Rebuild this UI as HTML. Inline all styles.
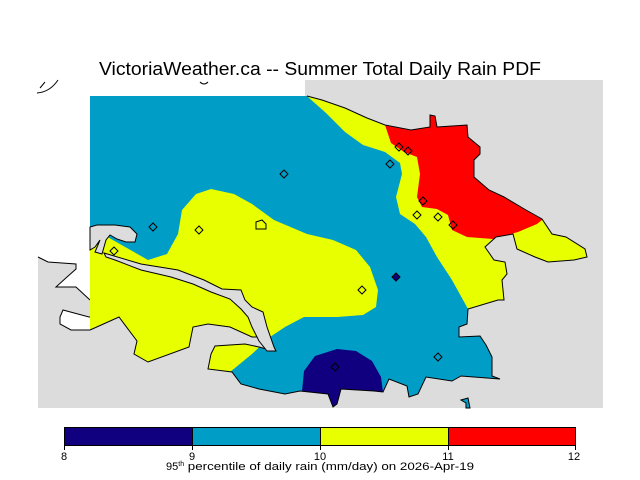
<!DOCTYPE html>
<html><head><meta charset="utf-8"><style>html,body{margin:0;padding:0;background:#fff}svg{display:block}</style></head>
<body>
<svg width="640" height="480" viewBox="0 0 640 480" xmlns="http://www.w3.org/2000/svg" font-family="Liberation Sans, sans-serif">
<text x="99" y="75" textLength="442" lengthAdjust="spacingAndGlyphs" font-size="18" fill="#000">VictoriaWeather.ca -- Summer Total Daily Rain PDF</text>
<rect x="38" y="80" width="565" height="328" fill="#dcdcdc"/>
<rect x="38" y="80" width="267" height="16" fill="#fff"/>
<path d="M38,80 L91,80 L91,300 L90,300 L76,287 L56,287 L67,277 L76,269 L76,264 L48,262 L38,257 Z" fill="#fff"/>
<path d="M38,257 L48,262 L76,264 L76,269 L67,277 L56,287 L76,287 L90,300" fill="none" stroke="#000"/>
<path d="M90,317 L89,317 L63,310 L60,317 L60,324 L71,330 L90,330" fill="#fff" stroke="#000"/>
<path d="M37,93 Q50,92 58,80 M45,82 L40,88" fill="none" stroke="#000"/>
<path d="M200,82 Q204,86 208,82" fill="none" stroke="#000"/>
<defs><clipPath id="land"><path d="M90,96 L307,96 L322,100 L345,108 L367,118 L385,125 L411,130 L430,127 L430,115 L435,116 L437,127 L467,125 L468,137 L480,147 L480,154 L474,160 L474,177 L489,190 L504,197 L526,210 L542,219 L552,234 L566,237 L585,249 L587,257 L574,260 L548,262 L535,257 L517,249 L513,234 L496,237 L485,247 L494,260 L505,262 L507,274 L502,280 L504,300 L498,300 L468,309 L467,324 L459,327 L459,337 L480,336 L486,345 L492,357 L492,376 L500,379 L461,376 L452,381 L426,377 L418,394 L409,397 L407,386 L389,379 L383,392 L374,391 L341,389 L337,404 L333,407 L328,394 L300,391 L285,394 L259,389 L241,384 L232,372 L208,369 L211,354 L215,346 L245,344 L259,347 L274,351 L270,337 L252,337 L230,327 L208,324 L193,327 L189,347 L148,362 L134,354 L137,341 L119,317 L90,330 Z"/></clipPath></defs>
<g clip-path="url(#land)">
<rect x="80" y="90" width="540" height="330" fill="#009ec6"/>
<path d="M90,227 L148,260 L167,254 L178,234 L182,210 L196,194 L211,189 L234,194 L252,204 L274,220 L307,234 L333,240 L356,250 L370,267 L378,290 L376,307 L363,315 L337,317 L304,317 L285,327 L270,337 L252,354 L230,372 L200,420 L80,420 L80,227 Z" fill="#e8ff00"/>
<path d="M300,90 L326,113 L345,132 L363,145 L385,152 L400,163 L402,174 L396,197 L400,214 L415,224 L426,237 L437,257 L452,280 L468,309 L480,320 L620,320 L620,90 Z" fill="#e8ff00"/>
<path d="M383,110 L385,125 L391,143 L404,152 L417,157 L420,174 L417,197 L422,207 L437,209 L448,215 L452,230 L467,237 L493,239 L518,232 L537,224 L548,215 L548,110 Z" fill="#ff0000"/>
<path d="M300,410 L302,391 L304,371 L315,356 L337,349 L356,351 L372,361 L381,377 L383,392 L385,410 Z" fill="#100080"/>
</g>
<path d="M307,96 L322,100 L345,108 L367,118 L385,125 L411,130 L430,127 L430,115 L435,116 L437,127 L467,125 L468,137 L480,147 L480,154 L474,160 L474,177 L489,190 L504,197 L526,210 L542,219 L552,234 L566,237 L585,249 L587,257 L574,260 L548,262 L535,257 L517,249 L513,234 L496,237 L485,247 L494,260 L505,262 L507,274 L502,280 L504,300 L498,300 L468,309 L467,324 L459,327 L459,337 L480,336 L486,345 L492,357 L492,376 L500,379 L461,376 L452,381 L426,377 L418,394 L409,397 L407,386 L389,379 L383,392 L374,391 L341,389 L337,404 L333,407 L328,394 L300,391 L285,394 L259,389 L241,384 L232,372 L208,369 L211,354 L215,346 L245,344 L259,347 L274,351 L270,337 L252,337 L230,327 L208,324 L193,327 L189,347 L148,362 L134,354 L137,341 L119,317 L90,330" fill="none" stroke="#000" stroke-width="1"/>
<path d="M90,227 L97,225 L115,225 L130,227 L137,234 L135,242 L126,242 L117,239 L110,235 L106,240 L104,247 L102,254 L95,252 L100,240 L95,247 L90,250 Z" fill="#dcdcdc" stroke="#000"/>
<path d="M104,253 L141,264 L178,270 L204,280 L222,289 L241,290 L245,300 L252,307 L263,312 L267,327 L274,347 L276,351 L267,351 L259,341 L252,327 L248,317 L241,309 L230,299 L211,292 L193,284 L171,277 L141,270 L115,260 L106,257 Z" fill="#dcdcdc" stroke="#000"/>
<path d="M461,400 L468,398 L470,408 L466,408 L466,403 Z" fill="#009ec6" stroke="#000"/>
<path d="M256,229 L256,222 L262,220 L266,224 L266,229 Z" fill="none" stroke="#000"/>
<g fill="none" stroke="#000" stroke-width="1">
<path d="M284,170 l4,4 -4,4 -4,-4 z"/><path d="M153,223 l4,4 -4,4 -4,-4 z"/><path d="M199,226 l4,4 -4,4 -4,-4 z"/><path d="M114,247 l4,4 -4,4 -4,-4 z"/>
<path d="M399,143 l4,4 -4,4 -4,-4 z"/><path d="M408,147 l4,4 -4,4 -4,-4 z"/><path d="M390,160 l4,4 -4,4 -4,-4 z"/><path d="M423,197 l4,4 -4,4 -4,-4 z"/>
<path d="M417,211 l4,4 -4,4 -4,-4 z"/><path d="M438,213 l4,4 -4,4 -4,-4 z"/><path d="M453,221 l4,4 -4,4 -4,-4 z"/><path d="M396,273 l4,4 -4,4 -4,-4 z" fill="#100080"/>
<path d="M362,286 l4,4 -4,4 -4,-4 z"/><path d="M335,363 l4,4 -4,4 -4,-4 z"/><path d="M438,353 l4,4 -4,4 -4,-4 z"/>
</g>
<rect x="64" y="427" width="128" height="18" fill="#100080"/>
<rect x="192" y="427" width="128" height="18" fill="#009ec6"/>
<rect x="320" y="427" width="128" height="18" fill="#e8ff00"/>
<rect x="448" y="427" width="128" height="18" fill="#ff0000"/>
<rect x="64.5" y="427.5" width="511" height="18" fill="none" stroke="#000"/>
<path d="M192.5,427 V450 M320.5,427 V450 M448.5,427 V450 M64.5,445 V450 M575.5,445 V450" stroke="#000"/>
<g font-size="11" text-anchor="middle" fill="#000">
<text x="64" y="460">8</text><text x="192" y="460">9</text><text x="320" y="460">10</text><text x="448" y="460">11</text><text x="574" y="460">12</text>
</g>
<text x="166" y="470" font-size="11" fill="#000">95<tspan font-size="7" dy="-4">th</tspan><tspan dy="4" textLength="290" lengthAdjust="spacingAndGlyphs"> percentile of daily rain (mm/day) on 2026-Apr-19</tspan></text>
</svg>
</body></html>
